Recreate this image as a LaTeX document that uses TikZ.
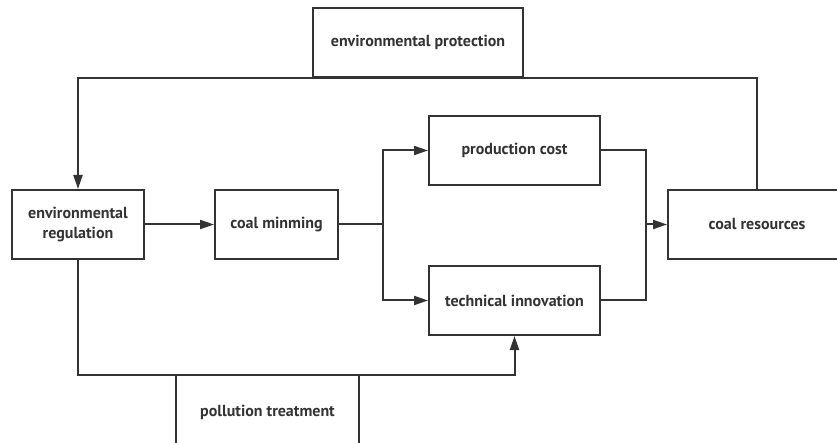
\documentclass[tikz,border=0pt]{standalone}
\usepackage{fontspec}
\setmainfont{PT Sans}
\usetikzlibrary{arrows.meta}
\definecolor{ink}{HTML}{333333}
\tikzset{
  box/.style={draw=ink, line width=2pt, rectangle, inner sep=0pt, align=center,
    text=ink, font=\fontsize{16}{20}\selectfont\bfseries},
  conn/.style={draw=ink, line width=2pt},
  arr/.style={conn, -{Triangle[length=14pt,width=9pt]}}
}
\begin{document}
\begin{tikzpicture}[x=1pt,y=-1pt]
\clip (0,0) rectangle (837,443);
\node[box, minimum width=210pt, minimum height=69pt] (prot) at (418,42.5) {environmental protection};
\node[box, minimum width=132pt, minimum height=69pt] (reg) at (78,224.5) {environmental\\regulation};
\node[box, minimum width=123pt, minimum height=69pt] (mine) at (276.5,224.5) {coal minming};
\node[box, minimum width=171pt, minimum height=69pt] (cost) at (514.5,150.5) {production cost};
\node[box, minimum width=171pt, minimum height=69pt] (tech) at (514.5,300.5) {technical innovation};
\node[box, minimum width=178pt, minimum height=69pt] (res) at (757,224.5) {coal resources};
\node[box, minimum width=183pt, minimum height=76pt] (poll) at (267.5,412.5) {pollution treatment};
\coordinate (split) at (383,224.5);
\coordinate (join) at (646,224.5);
\draw[arr] (res.north) -- (res.north |- prot.south) -| (reg.north);
\draw[arr] (reg.east) -- (mine.west);
\draw[conn] (mine.east) -- (split);
\draw[arr] (split) |- (cost.west);
\draw[arr] (split) |- (tech.west);
\draw[conn] (cost.east) -| (join);
\draw[conn] (tech.east) -| (join);
\draw[arr] (join) -- (res.west);
\draw[arr] (reg.south) -- ([yshift=-1.5pt]reg.south |- poll.north) -| (tech.south);
\end{tikzpicture}
\end{document}
